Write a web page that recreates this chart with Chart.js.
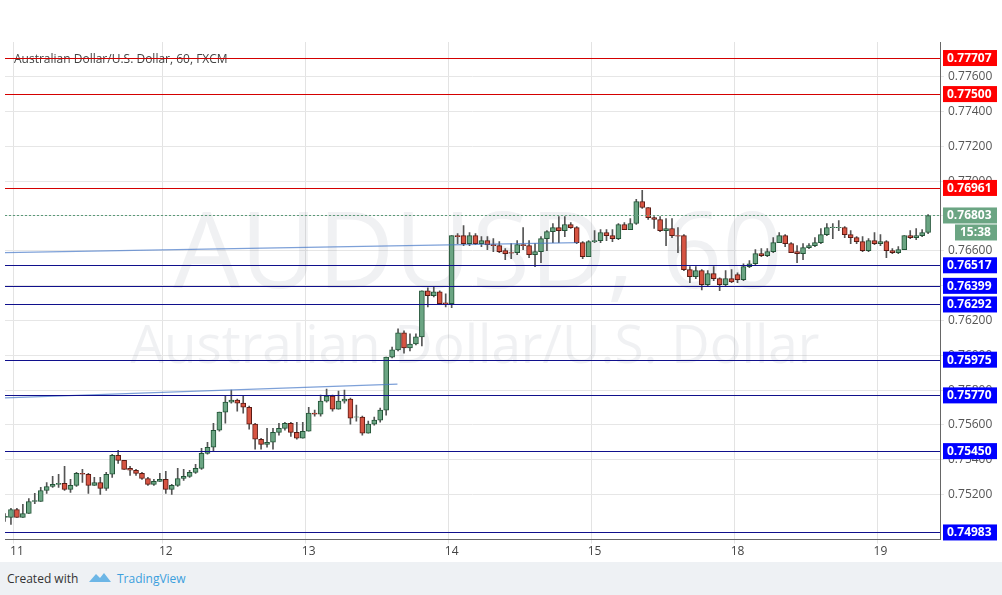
<!DOCTYPE html>
<html>
<head>
<meta charset="utf-8">
<script src="https://cdn.jsdelivr.net/npm/chart.js@4"></script>
<style>
body{margin:0;background:#fff;font-family:"Open Sans",Arial,sans-serif;}
#wrap{position:relative;width:1002px;height:562px;}
#foot{position:absolute;top:562px;left:0;width:1002px;height:33px;background:#eef1f4;font-size:12px;color:#333;}
#foot span{position:absolute;top:8px;}
</style>
</head>
<body>
<div id="wrap"><canvas id="c" width="1002" height="562"></canvas></div>
<div id="foot"><span style="left:7px">Created with</span>
<svg style="position:absolute;left:88px;top:9px" width="24" height="12"><path d="M1 11 L8 3 L12 7 L16 2 L23 11 Z" fill="#6cb6e6"/></svg>
<span style="left:117px;color:#3c9fdd">TradingView</span></div>
<script>
// prices in 1e-5 units (pipettes), one candle per hour
const opens=[75069,75069,75115,75069,75092,75161,75161,75224,75247,75259,75265,75230,75253,75322,75317,75253,75270,75236,75317,75426,75397,75351,75340,75322,75293,75259,75276,75288,75230,75253,75293,75305,75328,75351,75437,75472,75570,75674,75731,75743,75726,75702,75605,75518,75489,75501,75558,75581,75610,75558,75524,75564,75668,75662,75737,75766,75691,75737,75749,75645,75645,75553,75605,75628,75685,75990,76031,76129,76042,76065,76106,76371,76342,76365,76301,76296,76687,76687,76641,76687,76641,76659,76636,76630,76601,76590,76590,76636,76630,76578,76595,76670,76710,76733,76716,76751,76733,76647,76567,76653,76659,76705,76687,76670,76751,76722,76757,76883,76849,76791,76780,76716,76728,76687,76687,76492,76451,76486,76405,76469,76440,76405,76440,76463,76434,76509,76526,76584,76572,76595,76647,76687,76641,76595,76584,76618,76630,76647,76693,76733,76733,76733,76693,76676,76653,76601,76659,76641,76653,76601,76590,76607,76687,76676,76687,76705];
const highs=[75092,75121,75121,75144,75178,75207,75242,75270,75305,75317,75363,75288,75328,75345,75322,75299,75299,75328,75432,75455,75397,75363,75345,75328,75299,75288,75322,75334,75259,75351,75345,75340,75374,75466,75501,75610,75674,75766,75800,75749,75766,75708,75610,75524,75581,75581,75610,75616,75616,75616,75616,75702,75685,75772,75806,75772,75795,75800,75754,75714,75651,75622,75645,75697,75990,76048,76152,76141,76123,76123,76371,76388,76394,76371,76353,76687,76699,76745,76705,76699,76682,76682,76670,76653,76613,76641,76659,76733,76659,76641,76682,76716,76757,76797,76797,76762,76739,76653,76659,76716,76722,76722,76722,76757,76762,76785,76895,76947,76849,76797,76797,76785,76785,76733,76693,76509,76509,76492,76486,76509,76445,76486,76492,76474,76526,76544,76607,76613,76613,76676,76705,76693,76647,76630,76641,76641,76676,76728,76757,76757,76774,76739,76716,76682,76682,76670,76705,76693,76659,76613,76624,76687,76716,76728,76722,76808];
const lows=[75046,75029,75069,75069,75092,75149,75161,75207,75242,75242,75224,75213,75247,75270,75207,75253,75201,75224,75299,75380,75345,75311,75311,75288,75253,75253,75276,75207,75201,75247,75282,75299,75322,75345,75432,75449,75564,75610,75726,75679,75668,75576,75461,75461,75472,75461,75541,75570,75535,75518,75524,75564,75651,75651,75731,75679,75691,75726,75605,75622,75541,75553,75599,75616,75656,75985,76025,76013,76025,76060,76054,76278,76336,76296,76278,76273,76641,76630,76630,76636,76624,76607,76595,76590,76549,76555,76578,76607,76561,76509,76532,76601,76647,76647,76682,76728,76641,76555,76567,76647,76647,76659,76653,76664,76722,76722,76751,76843,76780,76728,76710,76630,76676,76590,76486,76417,76440,76376,76399,76428,76371,76399,76417,76417,76428,76503,76520,76567,76567,76590,76647,76624,76590,76532,76549,76613,76624,76641,76687,76670,76716,76676,76641,76641,76595,76595,76636,76630,76561,76584,76584,76607,76670,76664,76682,76699];
const closes=[75075,75115,75069,75092,75161,75166,75224,75247,75259,75265,75230,75253,75322,75317,75253,75270,75236,75317,75426,75397,75345,75340,75322,75293,75259,75276,75288,75230,75253,75293,75305,75328,75351,75437,75472,75570,75674,75731,75743,75726,75702,75605,75518,75489,75501,75558,75581,75610,75558,75524,75564,75668,75662,75737,75766,75691,75737,75749,75639,75645,75553,75605,75628,75685,75990,76031,76129,76042,76065,76106,76371,76342,76365,76296,76296,76687,76682,76641,76687,76641,76659,76636,76630,76595,76584,76587,76636,76630,76578,76595,76670,76710,76733,76716,76751,76733,76647,76567,76653,76659,76705,76687,76670,76751,76722,76757,76883,76849,76791,76780,76716,76728,76687,76684,76492,76451,76486,76405,76469,76440,76405,76440,76422,76434,76509,76526,76584,76572,76595,76647,76687,76641,76590,76584,76618,76630,76647,76693,76733,76736,76733,76693,76676,76653,76601,76659,76641,76653,76601,76590,76607,76687,76676,76687,76705,76803];
const dayTicks={2:'11',27:'12',51:'13',75:'14',99:'15',123:'18',147:'19'};
const redLevels=[0.77707,0.77500,0.76961];
const blueLevels=[0.76517,0.76399,0.76292,0.75975,0.75770,0.75450,0.74983];
const lastPrice=0.76803, countdown='15:38';
// trend lines: [index, price] pairs
const trendLines=[[[-1.2,0.76589],[96.2,0.76647]],[[-1.2,0.75754],[65.9,0.75835]]];
const emptySlots=2; // blank space right of the last candle

const P=v=>v/1e5;
const labels=opens.concat(new Array(emptySlots).fill(0)).map((_,i)=>String(i));
const up=opens.map((o,i)=>closes[i]>=o);

const overlay={
  id:'overlay',
  beforeDatasetsDraw(chart){
    const {ctx}=chart;
    ctx.save();
    ctx.fillStyle='rgba(120,130,150,0.11)';
    ctx.textAlign='center';ctx.textBaseline='middle';
    ctx.font='106px "Open Sans",sans-serif';
    ctx.fillText('AUDUSD, 60',478,258);
    ctx.font='53px "Open Sans",sans-serif';
    ctx.fillText('Australian Dollar/U.S. Dollar',475,348);
    ctx.fillStyle='#444';ctx.textAlign='left';ctx.font='12px "Open Sans",sans-serif';
    ctx.fillText('Australian Dollar/U.S. Dollar, 60, FXCM',14,60);
    ctx.restore();
  },
  afterDatasetsDraw(chart){
    const {ctx,chartArea:a,scales:{x,y}}=chart;
    ctx.save();
    ctx.beginPath();ctx.rect(a.left,a.top,a.right-a.left,a.bottom-a.top);ctx.clip();
    ctx.strokeStyle='rgba(70,120,200,0.7)';ctx.lineWidth=1.2;
    trendLines.forEach(t=>{ctx.beginPath();ctx.moveTo(x.getPixelForValue(t[0][0]),y.getPixelForValue(t[0][1]));ctx.lineTo(x.getPixelForValue(t[1][0]),y.getPixelForValue(t[1][1]));ctx.stroke();});
    ctx.lineWidth=1.2;
    const hl=(v,c)=>{const py=Math.round(y.getPixelForValue(v))+0.5;ctx.strokeStyle=c;ctx.beginPath();ctx.moveTo(a.left,py);ctx.lineTo(a.right,py);ctx.stroke();};
    redLevels.forEach(v=>hl(v,'#d40000'));
    blueLevels.forEach(v=>hl(v,'#10108c'));
    ctx.setLineDash([2,2]);ctx.lineWidth=1;hl(lastPrice,'#5a9a78');ctx.setLineDash([]);
    ctx.restore();
    ctx.save();
    ctx.font='bold 12px "Open Sans",sans-serif';ctx.textBaseline='middle';ctx.textAlign='left';
    const box=(v,bg,txt)=>{const py=y.getPixelForValue(v);ctx.fillStyle=bg;ctx.fillRect(a.right+3,py-8,54,16);ctx.fillStyle='#fff';ctx.fillText(txt,a.right+7,py+0.5);};
    redLevels.forEach(v=>box(v,'#ff0000',v.toFixed(5)));
    blueLevels.forEach(v=>box(v,'#0000ff',v.toFixed(5)));
    box(lastPrice,'#6ba583',lastPrice.toFixed(5));
    const py=y.getPixelForValue(lastPrice)+16;
    ctx.fillStyle='#6ba583';ctx.fillRect(a.right+15,py-7,42,16);ctx.fillStyle='#fff';ctx.fillText(countdown,a.right+20,py+1);
    ctx.restore();
  }
};

new Chart(document.getElementById('c'),{
  type:'bar',
  data:{labels,datasets:[
    {data:opens.map((o,i)=>[P(lows[i]),P(highs[i])]),backgroundColor:'#555',barThickness:1,grouped:false,order:2},
    {data:opens.map((o,i)=>[P(o),closes[i]===o?P(o)+0.000012:P(closes[i])]),
     backgroundColor:up.map(u=>u?'#6ba583':'#d75442'),borderColor:up.map(u=>u?'#225437':'#5b1a13'),
     borderWidth:1,borderSkipped:false,barThickness:5,grouped:false,order:1}
  ]},
  options:{
    responsive:false,animation:false,
    layout:{padding:{top:42,left:5,right:0,bottom:2}},
    plugins:{legend:{display:false},tooltip:{enabled:false}},
    scales:{
      x:{offset:false,border:{color:'#666'},
        grid:{color:c=>dayTicks[c.index]?'#e3e3e3':'transparent',tickLength:4},
        ticks:{autoSkip:false,maxRotation:0,color:'#444',font:{size:12,family:'"Open Sans"'},padding:1,callback:(v,i)=>dayTicks[i]||''}},
      y:{position:'right',min:0.74942,max:0.77799,border:{color:'#666'},
        grid:{color:'#e6e6e6',tickLength:4},
        afterFit:s=>{s.width=62;},
        afterBuildTicks:s=>{s.ticks=s.ticks.filter(t=>Math.abs(t.value*500-Math.round(t.value*500))<1e-6);},
        ticks:{stepSize:0.002,color:'#555',font:{size:12,family:'"Open Sans"'},padding:4,callback:v=>v.toFixed(5)}}
    }
  },
  plugins:[overlay]
});
</script>
</body>
</html>
